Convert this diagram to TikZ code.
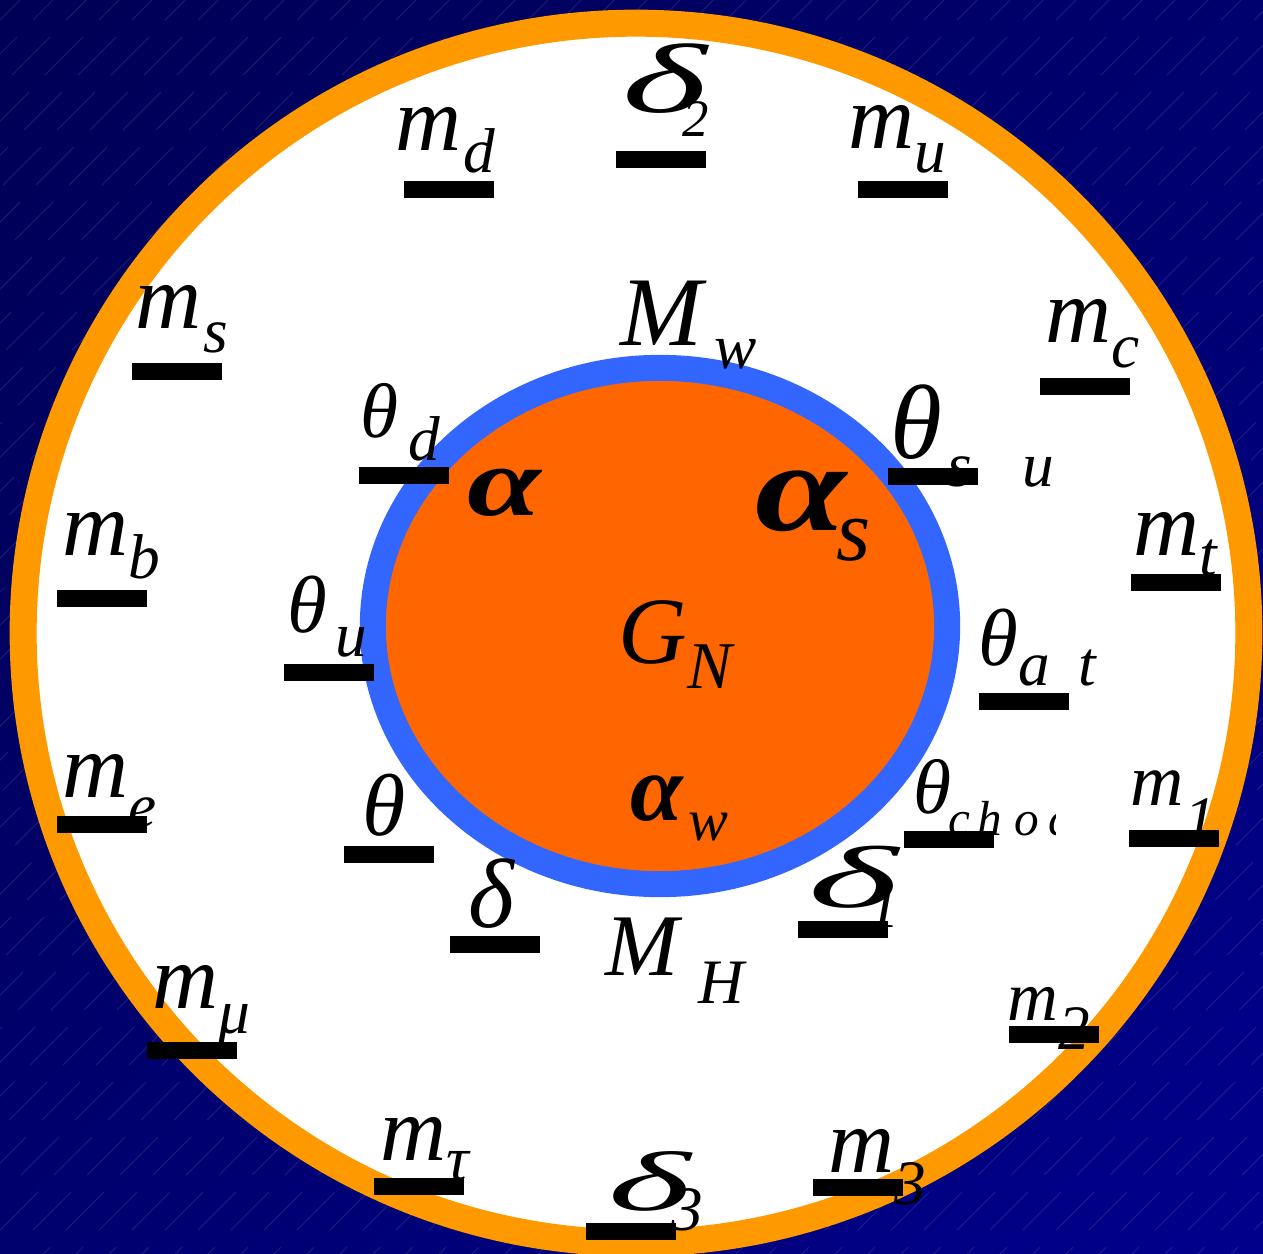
\documentclass[tikz,border=0pt]{standalone}
\usepackage{fontspec}
\setmainfont{Liberation Serif}
\usetikzlibrary{shadings}

\definecolor{ringorange}{RGB}{255,153,0}
\definecolor{coreorange}{RGB}{255,102,0}
\definecolor{ringblue}{RGB}{51,102,255}
\definecolor{navydark}{RGB}{0,0,85}
\definecolor{navymid}{RGB}{0,0,110}
\definecolor{navylight}{RGB}{0,0,140}

% subindice: [tamano]{separacion}{bajada}{texto}
\newcommand{\subtxt}[4][18]{\hspace{#2}\raisebox{-#3}{\fontsize{#1}{#1}\selectfont #4}}

\tikzset{
  lab/.style={font=\fontsize{#1}{#1}\selectfont\itshape, inner sep=0pt, anchor=base west},
  lab/.default=26,
  bar/.style={fill=black, minimum width=0.9cm, minimum height=0.17cm, inner sep=0pt, anchor=north west},
  streak/.style={white, opacity=0.1, line width=0.3pt},
}

\begin{document}
\begin{tikzpicture}[x=0.01cm, y=-0.01cm]
    \clip (0,0) rectangle (1263,1254);

    % Fondo
    \shade[upper left=navydark, upper right=navymid, lower left=navymid, lower right=navylight]
        (0,0) rectangle (1263,1254);
    \foreach \i in {-8,...,40} {
        \foreach \j in {0,...,23} {
            \draw[streak] ({\i*33+\j*12},{\j*55+20}) -- ++(38,-38);
        }
    }

    % Circulo exterior
    \draw[ringorange, line width=0.27cm, fill=white] (636,633) ellipse [x radius=6.125cm, y radius=6.095cm];

    % Nucleo
    \draw[ringblue, line width=0.26cm, fill=coreorange] (660,626) ellipse [x radius=2.87cm, y radius=2.58cm];

    % Etiquetas del nucleo
    \node[lab=28] (Mw) at (620,345) {M\subtxt{0.12cm}{0.23cm}{w}};
    \node[lab=28] (al) at (467,515) {\scalebox{1.35}[1]{\bfseries α}};
    \node[lab=36] (als) at (755,530) {\scalebox{1.3}[1]{\bfseries α}\subtxt[25]{-0.1cm}{0.3cm}{s}};
    \node[lab=27] (GN) at (618,663) {G\subtxt[19]{0cm}{0.25cm}{N}};
    \node[lab=27] (alw) at (630,820) {{\bfseries α}\subtxt[17]{0.05cm}{0.2cm}{w}};
    \node[lab=25] (MH) at (605,975) {M\subtxt{0.2cm}{0.28cm}{H}};

    % Etiquetas exteriores
    \node[lab] (md) at (395,150) {m\subtxt{0.02cm}{0.22cm}{d}};
    \node[lab=28] (d2) at (622,112) {\scalebox{1.85}[1]{δ}\subtxt[15]{-0.25cm}{0.24cm}{2}};
    \node[lab] (mu) at (848,148) {m\subtxt{0cm}{0.24cm}{u}};
    \node[lab] (ms) at (135,328) {m\subtxt{0.02cm}{0.24cm}{s}};
    \node[lab] (mc) at (1045,342) {m\subtxt{0cm}{0.25cm}{c}};
    \node[lab=22] (thd) at (360,437) {θ\subtxt{0.1cm}{0.23cm}{d}};
    \node[lab=30] (ths) at (890,458) {θ\subtxt{0.05cm}{0.28cm}{s\hspace{0.5cm}u}};
    \node[lab] (mb) at (62,555) {m\subtxt{0cm}{0.23cm}{b}};
    \node[lab] (mt) at (1133,555) {m\subtxt{0cm}{0.2cm}{t}};
    \node[lab=23] (thu) at (287,632) {θ\subtxt{0.08cm}{0.24cm}{u}};
    \node[lab=23] (tha) at (978,665) {θ\subtxt{0cm}{0.2cm}{a\hspace{0.28cm}t}};
    \node[lab] (me) at (62,797) {m\subtxt{0cm}{0.3cm}{e}};
    \node[lab=25] (th) at (362,835) {θ};
    \begin{scope}
        \clip (900,700) rectangle (1055,860);
        \node[lab=22] (thc) at (913,813) {θ\subtxt[14]{-0.03cm}{0.22cm}{c\hspace{0.07cm}h\hspace{0.12cm}o\hspace{0.1cm}c}};
    \end{scope}
    \node[lab=21] (m1) at (1130,805) {m\subtxt{0cm}{0.35cm}{1}};
    \node[lab=28] (dl) at (468,927) {δ};
    \node[lab=25] (d1) at (808,907) {\scalebox{2.2}[1]{δ}\subtxt{-0.3cm}{0.2cm}{1}};
    \node[lab] (mmu) at (152,1008) {m\subtxt{0cm}{0.25cm}{μ}};
    \node[lab=20] (m2) at (1007,1020) {m\subtxt{0cm}{0.29cm}{2}};
    \node[lab] (mtau) at (380,1160) {m\subtxt{0cm}{0.2cm}{τ}};
    \node[lab] (m3) at (828,1172) {m\subtxt{0cm}{0.32cm}{3}};
    \node[lab=24] (d3) at (608,1210) {\scalebox{2.1}[1]{δ}\subtxt{-0.2cm}{0.2cm}{3}};

    % Barras negras
    \foreach \n/\x/\y in {md/403/180, d2/615/150, mu/857/180, ms/131/362, mc/1039/377,
        thd/358/466, ths/887/467, mb/56/589, mt/1130/573, thu/283/663, tha/978/692,
        me/56/815, th/343/845, thc/903/830, m1/1128/829, dl/449/935, d1/797/920,
        mmu/146/1041, m2/1008/1025, mtau/373/1177, m3/812/1178, d3/585/1222}
        \node[bar] (b\n) at (\x,\y) {};
\end{tikzpicture}
\end{document}
